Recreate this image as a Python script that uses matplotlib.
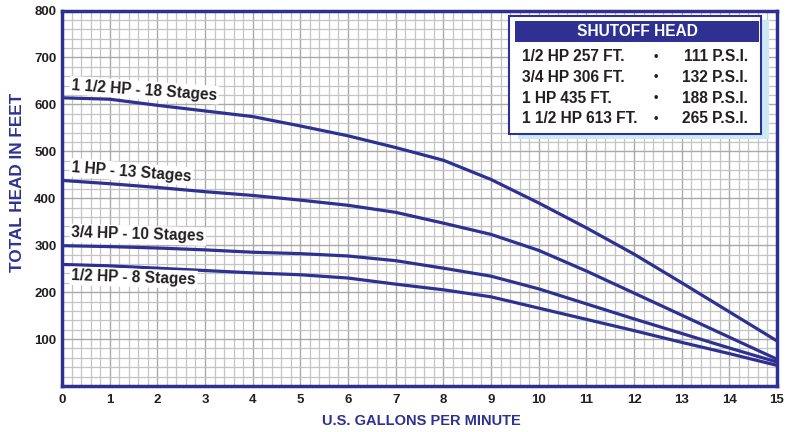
import numpy as np
import matplotlib.pyplot as plt
from matplotlib.patches import Rectangle
from matplotlib.ticker import MultipleLocator

plt.rcParams['font.family'] = ['Liberation Sans', 'DejaVu Sans']
plt.rcParams['font.weight'] = 'bold'

BLUE = '#2e3192'
INK = '#231f20'

gpm = [0, 1, 2, 3, 4, 5, 6, 7, 8, 9, 10, 11, 12, 13, 14, 15]
head_1_5hp = [614, 611, 598, 586, 574, 554, 533, 508, 481, 440, 390, 337, 281, 220, 158, 96]
head_1hp = [438, 431, 423, 414, 406, 396, 385, 370, 347, 323, 289, 245, 198, 151, 104, 57]
head_3_4hp = [299, 297, 294, 290, 285, 282, 277, 267, 251, 234, 207, 175, 143, 112, 81, 51]
head_1_2hp = [259, 256, 251, 246, 241, 237, 230, 217, 205, 190, 166, 142, 118, 93, 69, 44]

curve_labels = ['1 1/2 HP - 18 Stages', '1 HP - 13 Stages', '3/4 HP - 10 Stages', '1/2 HP - 8 Stages']
label_pos = [(0.2, 641, -4.0), (0.2, 466, -4.5), (0.2, 326, -1.6), (0.2, 235, -2.0)]

shutoff_rows = [('1/2 HP 257 FT.', '111 P.S.I.'),
                ('3/4 HP 306 FT.', '132 P.S.I.'),
                ('1 HP 435 FT.', '188 P.S.I.'),
                ('1 1/2 HP 613 FT.', '265 P.S.I.')]

W, H = 788, 432
fig = plt.figure(figsize=(W / 100, H / 100), dpi=100)
ax = fig.add_axes([62 / W, (H - 386) / H, (777 - 62) / W, (386 - 10.5) / H])


def fx(px):
    return px / W


def fy(py):
    return 1 - py / H


for y in (head_1_5hp, head_1hp, head_3_4hp, head_1_2hp):
    ax.plot(gpm, y, color=BLUE, lw=2.3, solid_capstyle='butt', zorder=3)

for txt, (x, y, rot) in zip(curve_labels, label_pos):
    ax.text(x, y, txt, fontsize=11.2, fontweight='bold', color=INK, rotation=rot,
            rotation_mode='anchor', ha='left', va='center', zorder=4,
            bbox=dict(facecolor='white', edgecolor='none', pad=1.2))

ax.set_xlim(0, 15)
ax.set_ylim(0, 800)
ax.xaxis.set_major_locator(MultipleLocator(1))
ax.xaxis.set_minor_locator(MultipleLocator(0.2))
ax.yaxis.set_major_locator(MultipleLocator(100))
ax.yaxis.set_minor_locator(MultipleLocator(20))
ax.grid(which='major', color='#a9a9a9', lw=1.0, zorder=0)
ax.grid(which='minor', color='#c4c4c4', lw=0.9, zorder=0)
ax.set_axisbelow(True)
ax.tick_params(which='both', length=0)
ax.tick_params(axis='x', pad=6)
ax.tick_params(axis='y', pad=4)
ax.set_yticks(range(100, 801, 100))
for lab in ax.get_xticklabels() + ax.get_yticklabels():
    lab.set_fontsize(9.5)
    lab.set_fontweight('bold')
    lab.set_color(INK)
for sp in ax.spines.values():
    sp.set_color(BLUE)
    sp.set_linewidth(2.5)

fig.text(fx(18), fy(182), 'TOTAL HEAD IN FEET', rotation=90, ha='center', va='center',
         fontsize=12.3, fontweight='bold', color=BLUE)
fig.text(fx(421), fy(421), 'U.S. GALLONS PER MINUTE', ha='center', va='center',
         fontsize=10.5, fontweight='bold', color=BLUE)

# shutoff head box
fig.patches.append(Rectangle((fx(518), fy(139)), fx(769 - 518), (139 - 20) / H,
                             transform=fig.transFigure, facecolor='#cde9f6', edgecolor='none', zorder=5))
fig.patches.append(Rectangle((fx(509), fy(134)), fx(761 - 509), (134 - 16) / H,
                             transform=fig.transFigure, facecolor='white', edgecolor=BLUE, lw=1.5, zorder=6))
fig.patches.append(Rectangle((fx(515), fy(42)), fx(759 - 515), (42 - 21) / H,
                             transform=fig.transFigure, facecolor=BLUE, edgecolor='none', zorder=7))
fig.text(fx(637), fy(31.5), 'SHUTOFF HEAD', ha='center', va='center', fontsize=11.2,
         fontweight='bold', color='white', zorder=8)
for i, (left, right) in enumerate(shutoff_rows):
    yy = fy(56.5 + i * 20.8)
    fig.text(fx(522), yy, left, ha='left', va='center', fontsize=11.2, fontweight='bold', color=INK, zorder=8)
    fig.text(fx(656), yy, '•', ha='center', va='center', fontsize=9, fontweight='bold', color=INK, zorder=8)
    fig.text(fx(748), yy, right, ha='right', va='center', fontsize=11.2, fontweight='bold', color=INK, zorder=8)

fig.savefig('out.png', dpi=100)
